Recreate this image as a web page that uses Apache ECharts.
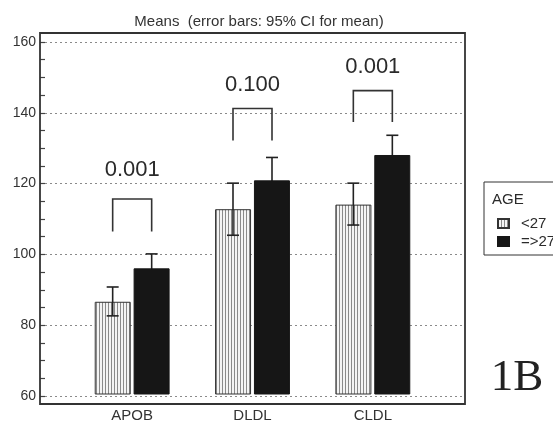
<!DOCTYPE html>
<html><head><meta charset="utf-8">
<script src="https://cdn.jsdelivr.net/npm/echarts@6/dist/echarts.min.js"></script>
<style>html,body{margin:0;padding:0;background:#fff}#c{width:553px;height:423px}</style>
</head><body><div id="c"></div>
<script>
// ---- data ----
const categories = ['APOB', 'DLDL', 'CLDL'];
const groupNames = ['<27', '=>27'];
const meanYoung = [86.2, 112.5, 113.8];
const meanOld = [95.7, 120.7, 127.9];
const ciLowYoung = [82.2, 105.1, 108.0];
const ciHighYoung = [90.4, 119.9, 119.9];
const ciLowOld = [91.6, 114.2, 122.3];
const ciHighOld = [99.8, 127.2, 133.5];
const pValues = ['0.001', '0.100', '0.001'];
const bracketTop = [115.4, 141.1, 146.2];
const bracketFoot = [106.2, 132.0, 137.3];
const pLabelAt = [123.6, 147.9, 152.8];
const yTicks = [60, 80, 100, 120, 140, 160];
const legendTitle = 'AGE';
const titleText = 'Means  (error bars: 95% CI for mean)';
const panelLabel = '1B';

// ---- styles ----
const FONT = '"Liberation Sans", Arial, sans-serif';
const INK = '#2a2a2a';
const BAR_W = 36, HALF_STEP = 19.5, CAP = 6;

const cv = document.createElement('canvas');
cv.width = 3; cv.height = 4;
const g = cv.getContext('2d');
g.fillStyle = '#f4f4f4'; g.fillRect(0, 0, 3, 4);
g.fillStyle = '#8a8a8a'; g.fillRect(0, 0, 1, 4);
const stripe = { image: cv, repeat: 'repeat' };

const yMin = yTicks[0], yMax = yTicks[yTicks.length - 1], yStep = yTicks[1] - yTicks[0];

const errYoung = categories.map((c, i) => [i, ciLowYoung[i], ciHighYoung[i], -1]);
const errOld = categories.map((c, i) => [i, ciLowOld[i], ciHighOld[i], 1]);
const brData = categories.map((c, i) => [i, bracketTop[i], bracketFoot[i], pLabelAt[i]]);

function renderErr(params, api) {
  const lo = api.coord([api.value(0), api.value(1)]);
  const hi = api.coord([api.value(0), api.value(2)]);
  const x = lo[0] + api.value(3) * HALF_STEP;
  const st = { stroke: '#222', lineWidth: 1.6 };
  return {
    type: 'group', children: [
      { type: 'line', shape: { x1: x, y1: lo[1], x2: x, y2: hi[1] }, style: st },
      { type: 'line', shape: { x1: x - CAP, y1: hi[1], x2: x + CAP, y2: hi[1] }, style: st },
      { type: 'line', shape: { x1: x - CAP, y1: lo[1], x2: x + CAP, y2: lo[1] }, style: st }
    ]
  };
}

const chart = echarts.init(document.getElementById('c'), null, { renderer: 'canvas' });
chart.setOption({
  animation: false,
  backgroundColor: '#fff',
  title: {
    text: titleText, left: 254, top: 9, textAlign: 'center',
    textStyle: { fontFamily: FONT, fontSize: 15, fontWeight: 'normal', color: '#333' }
  },
  legend: {
    orient: 'vertical', left: 492, top: 211, itemWidth: 11, itemHeight: 9, itemGap: 3,
    icon: 'rect', data: groupNames,
    textStyle: { fontFamily: FONT, fontSize: 15, color: INK, padding: [0, 0, 0, 7] }
  },
  grid: [
    { left: 40, right: 88, top: 42, bottom: 27 },
    { left: 72, right: 120, top: 42, bottom: 27 }
  ],
  xAxis: [
    { type: 'value', gridIndex: 0, show: false, min: 0, max: 1 },
    {
      type: 'category', gridIndex: 1, data: categories,
      axisLine: { show: false }, axisTick: { show: false },
      axisLabel: { margin: 14, fontFamily: FONT, fontSize: 15, color: '#333' }
    }
  ],
  yAxis: [
    {
      type: 'value', gridIndex: 0, min: yMin, max: yMax, interval: yStep,
      axisLine: { show: false },
      axisTick: { show: true, inside: true, length: 5, lineStyle: { color: '#444', width: 1.2 } },
      minorTick: { show: true, splitNumber: 4, length: 5, lineStyle: { color: '#444', width: 1.2 } },
      axisLabel: { margin: 4, fontFamily: FONT, fontSize: 14, color: '#333' },
      splitLine: { show: true, lineStyle: { color: '#8a8a8a', type: [2, 3], width: 1 } }
    },
    { type: 'value', gridIndex: 1, min: yMin, max: yMax, show: false, splitLine: { show: false } }
  ],
  series: [
    {
      type: 'custom', xAxisIndex: 1, yAxisIndex: 1, data: errOld, z: 1,
      renderItem: renderErr
    },
    {
      name: groupNames[0], type: 'bar', xAxisIndex: 1, yAxisIndex: 1, data: meanYoung,
      barWidth: BAR_W, barGap: '8%', z: 2,
      itemStyle: { color: stripe, borderColor: '#333', borderWidth: 1 }
    },
    {
      name: groupNames[1], type: 'bar', xAxisIndex: 1, yAxisIndex: 1, data: meanOld,
      barWidth: BAR_W, barGap: '8%', z: 2,
      itemStyle: { color: '#161616', borderColor: '#161616', borderWidth: 1 }
    },
    {
      type: 'custom', xAxisIndex: 1, yAxisIndex: 1, data: errYoung, z: 5,
      renderItem: renderErr
    },
    {
      type: 'custom', xAxisIndex: 1, yAxisIndex: 1, data: brData, z: 5,
      renderItem: function (params, api) {
        const i = api.value(0);
        const t = api.coord([i, api.value(1)]);
        const f = api.coord([i, api.value(2)]);
        const l = api.coord([i, api.value(3)]);
        const x1 = t[0] - HALF_STEP, x2 = t[0] + HALF_STEP;
        return {
          type: 'group', children: [
            {
              type: 'polyline',
              shape: { points: [[x1, f[1]], [x1, t[1]], [x2, t[1]], [x2, f[1]]] },
              style: { stroke: '#333', lineWidth: 1.6, fill: null }
            },
            {
              type: 'text', x: t[0], y: l[1],
              style: {
                text: pValues[params.dataIndex], fontFamily: FONT, fontSize: 22,
                fill: INK, align: 'center', verticalAlign: 'middle'
              }
            }
          ]
        };
      }
    }
  ],
  graphic: [
    {
      type: 'rect', shape: { x: 40, y: 33, width: 425, height: 371 },
      style: { fill: null, stroke: '#333', lineWidth: 1.8 }, z: 10
    },
    {
      type: 'rect', shape: { x: 484, y: 182, width: 74, height: 73 },
      style: { fill: null, stroke: '#333', lineWidth: 1 }
    },
    {
      type: 'text', x: 492, y: 200,
      style: { text: legendTitle, fontFamily: FONT, fontSize: 15, fill: INK, verticalAlign: 'middle' }
    },
    {
      type: 'text', x: 517, y: 378,
      style: {
        text: panelLabel, fontFamily: '"Liberation Serif", "DejaVu Serif", serif', fontSize: 45,
        fill: '#222', align: 'center', verticalAlign: 'middle'
      }
    }
  ]
});
</script></body></html>
